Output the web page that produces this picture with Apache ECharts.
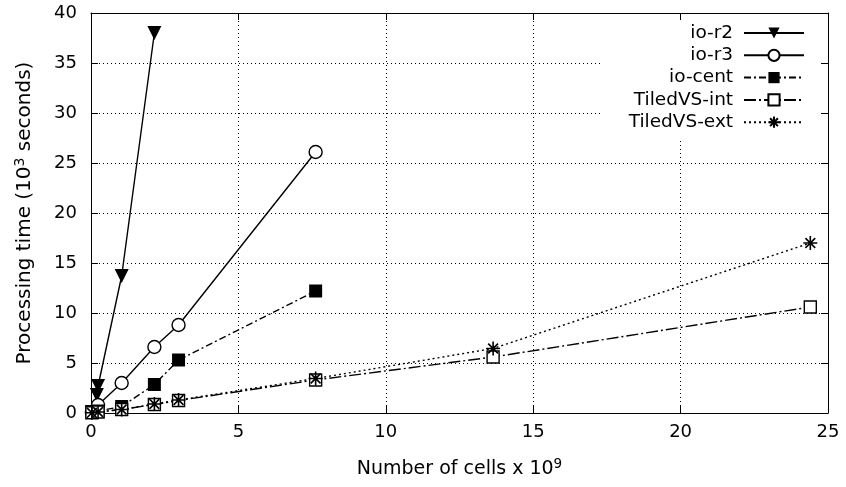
<!DOCTYPE html>
<html>
<head>
<meta charset="utf-8">
<script src="https://cdn.jsdelivr.net/npm/echarts@6/dist/echarts.min.js"></script>
<style>
  html, body { margin: 0; padding: 0; background: #fff; }
  #chart { width: 846px; height: 487px; }
</style>
</head>
<body>
<div id="chart"></div>
<script>
// 数据 (cells x 10^9, 10^3 seconds)
const r2X = [0.03, 0.2, 0.24, 1.04, 2.15]
const r2Y = [0.1, 1.8, 2.7, 13.7, 38.0]
const r3X = [0.03, 0.24, 1.04, 2.15, 2.97, 7.62]
const r3Y = [0.1, 0.8, 3.0, 6.6, 8.8, 26.1]
const centX = [0.03, 0.24, 1.04, 2.15, 2.97, 7.62]
const centY = [0.05, 0.2, 0.65, 2.85, 5.3, 12.2]
const intX = [0.03, 0.24, 1.04, 2.15, 2.97, 7.62, 13.64, 24.4]
const intY = [0.02, 0.1, 0.35, 0.85, 1.25, 3.3, 5.6, 10.6]
const extX = [0.03, 0.24, 1.04, 2.15, 2.97, 7.62, 13.64, 24.4]
const extY = [0.02, 0.1, 0.35, 0.9, 1.3, 3.45, 6.45, 17.0]
const xTicks = [0, 5, 10, 15, 20, 25]
const yTicks = [0, 5, 10, 15, 20, 25, 30, 35, 40]

const pairs = (xs, ys) => xs.map((x, i) => [x, ys[i]])
const font = 'DejaVu Sans'
const fs = 18
const starPath = 'path://M10,0L10,20M0,10L20,10M3,3L17,17M3,17L17,3'
//上标
const supRich = (size) => ({ s: { fontFamily: font, fontSize: size, color: '#000', verticalAlign: 'top', lineHeight: 24 } })

let chart = echarts.init(document.getElementById('chart'))

//公共的线条样式
function lineSeries(name, data, symbol, size, dash, extra) {
  return Object.assign({
    name: name,
    type: 'line',
    data: data,
    symbol: symbol,
    symbolSize: size,
    showSymbol: true,
    animation: false,
    itemStyle: { color: '#000' },
    lineStyle: { color: '#000', width: 1.4, type: dash },
  }, extra || {})
}

const boxAxis = {
  axisLine: { show: true, onZero: false, lineStyle: { color: '#000', width: 1 } },
  axisTick: { show: true, inside: true, length: 7, lineStyle: { color: '#000' } },
}

chart.setOption({
  backgroundColor: '#fff',
  textStyle: { fontFamily: font, color: '#000' },
  grid: { left: 91, right: 18, top: 13, bottom: 74 },
  legend: {
    orient: 'vertical',
    align: 'right',
    right: 18,
    top: 14,
    padding: [9, 23, 6, 28],
    backgroundColor: '#fff',
    itemWidth: 60,
    itemHeight: 14,
    itemGap: 2.3,
    textStyle: { fontFamily: font, fontSize: 18.5, color: '#000', lineHeight: 20 },
    formatter: n => n + ' ',
    data: ['io-r2', 'io-r3', 'io-cent', 'TiledVS-int', 'TiledVS-ext'],
  },
  xAxis: [
    Object.assign({
      type: 'value',
      min: xTicks[0],
      max: xTicks[xTicks.length - 1],
      interval: 5,
      name: 'Number of cells x 10{s|9}',
      nameLocation: 'middle',
      nameGap: 44,
      nameTextStyle: { fontFamily: font, fontSize: 19, color: '#000', lineHeight: 24, rich: supRich(13.5) },
      axisLabel: { fontFamily: font, fontSize: fs, color: '#000', margin: 10 },
      splitLine: { show: true, lineStyle: { color: '#000', type: [1, 3], width: 1 } },
    }, boxAxis),
    Object.assign({
      type: 'value',
      position: 'top',
      min: xTicks[0],
      max: xTicks[xTicks.length - 1],
      interval: 5,
      z: 6,
      axisLabel: { show: false },
      splitLine: { show: false },
    }, boxAxis),
  ],
  yAxis: [
    Object.assign({
      type: 'value',
      min: yTicks[0],
      max: yTicks[yTicks.length - 1],
      interval: 5,
      name: 'Processing time (10{s|3} seconds)',
      nameLocation: 'middle',
      nameGap: 54,
      nameTextStyle: { fontFamily: font, fontSize: 20, color: '#000', lineHeight: 24, rich: supRich(14) },
      axisLabel: { fontFamily: font, fontSize: fs, color: '#000', margin: 14 },
      splitLine: { show: true, lineStyle: { color: '#000', type: [1, 3], width: 1 } },
    }, boxAxis),
    Object.assign({
      type: 'value',
      position: 'right',
      min: yTicks[0],
      max: yTicks[yTicks.length - 1],
      interval: 5,
      z: 6,
      axisLabel: { show: false },
      splitLine: { show: false },
    }, boxAxis),
  ],
  series: [
    lineSeries('io-r2', pairs(r2X, r2Y), 'triangle', 14, 'solid', { symbolRotate: 180 }),
    lineSeries('io-r3', pairs(r3X, r3Y), 'circle', 13, 'solid', {
      itemStyle: { color: '#fff', borderColor: '#000', borderWidth: 1.4 },
    }),
    lineSeries('io-cent', pairs(centX, centY), 'rect', 13, [7, 3, 2, 3]),
    lineSeries('TiledVS-int', pairs(intX, intY), 'rect', 12, [12, 3, 2, 3], {
      itemStyle: { color: '#fff', borderColor: '#000', borderWidth: 1.4 },
    }),
    lineSeries('TiledVS-ext', pairs(extX, extY), starPath, 14, [2, 3], {
      itemStyle: { color: 'none', borderColor: '#000', borderWidth: 1.6 },
    }),
  ],
})
</script>
</body>
</html>
